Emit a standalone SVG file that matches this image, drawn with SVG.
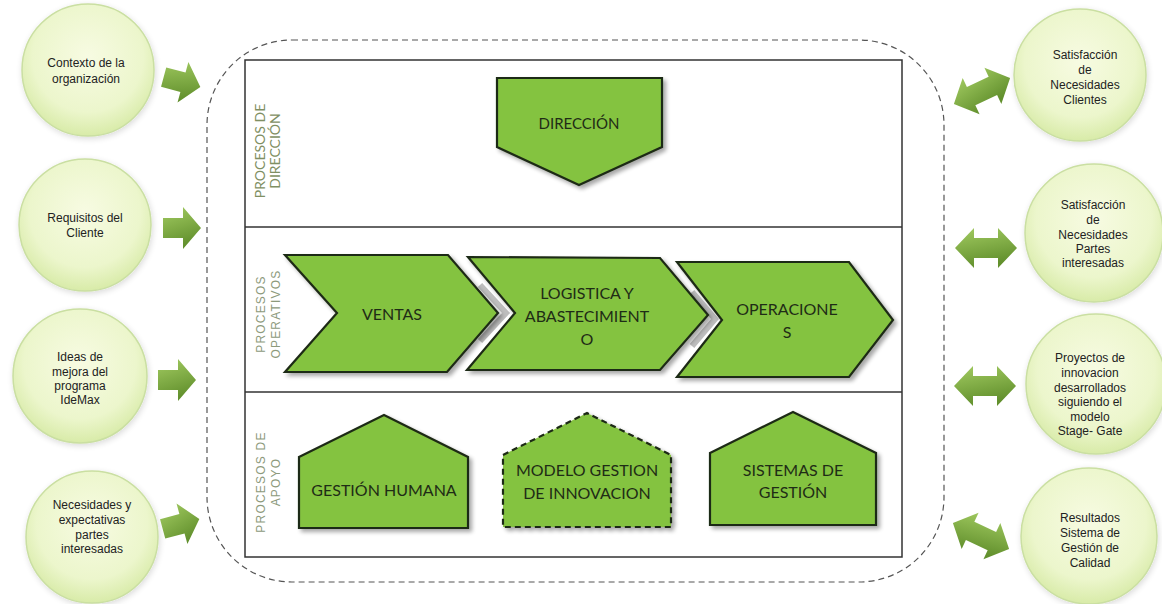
<svg xmlns="http://www.w3.org/2000/svg" width="1162" height="604" viewBox="0 0 1162 604">
<defs>
<style>
.ctext{font-family:"Liberation Sans",Arial,sans-serif;font-size:12px;fill:#222;text-anchor:middle}
.stext{font-family:Lato,"Open Sans",sans-serif;font-size:16px;fill:#1f2c16;text-anchor:middle}
.lbl{font-family:"Liberation Sans",Arial,sans-serif;font-size:12px;fill:#8d9a7c;text-anchor:middle;letter-spacing:1.2px}
.lbl2{font-family:Lato,"Open Sans",sans-serif;font-size:14px;fill:#7f8f63;text-anchor:middle}
.circ{fill:url(#cg);stroke:#cadfa2;stroke-width:1.5;filter:url(#glow)}
.shape{fill:#84c341;stroke:#1f2b15;stroke-width:2.2;stroke-linejoin:miter;filter:url(#sh)}
.arr{fill:url(#ag)}
</style>
<radialGradient id="cg" cx="50%" cy="40%" r="60%">
<stop offset="0" stop-color="#f7fbe2"/>
<stop offset="0.7" stop-color="#ecf6cc"/>
<stop offset="1" stop-color="#d8eba8"/>
</radialGradient>
<linearGradient id="ag" x1="0" y1="0" x2="0.3" y2="1">
<stop offset="0" stop-color="#a3cc62"/>
<stop offset="1" stop-color="#62902d"/>
</linearGradient>
<filter id="sh" x="-10%" y="-10%" width="130%" height="130%">
<feGaussianBlur in="SourceAlpha" stdDeviation="2"/>
<feOffset dx="3" dy="3" result="o"/>
<feComponentTransfer><feFuncA type="linear" slope="0.35"/></feComponentTransfer>
<feMerge><feMergeNode/><feMergeNode in="SourceGraphic"/></feMerge>
</filter>
<filter id="glow" x="-15%" y="-15%" width="130%" height="130%">
<feGaussianBlur in="SourceAlpha" stdDeviation="3"/>
<feOffset dx="1" dy="2"/>
<feComponentTransfer><feFuncA type="linear" slope="0.15"/></feComponentTransfer>
<feMerge><feMergeNode/><feMergeNode in="SourceGraphic"/></feMerge>
</filter>
<path id="arrR" d="M-19,-10 L1,-10 L1,-21 L19,0 L1,21 L1,10 L-19,10 Z"/>
<path id="arrD" d="M-31,0 L-12,-20 L-12,-10 L12,-10 L12,-20 L31,0 L12,20 L12,10 L-12,10 L-12,20 Z"/>
</defs>
<rect width="1162" height="604" fill="#ffffff"/>

<!-- container -->
<g id="container">
<rect x="207" y="40" width="737" height="542" rx="85" ry="85" fill="none" stroke="#555" stroke-width="1.2" stroke-dasharray="6 4"/>
<rect x="245" y="60" width="657" height="497" fill="none" stroke="#333" stroke-width="1.5"/>
<line x1="245" y1="227" x2="902" y2="227" stroke="#333" stroke-width="1.5"/>
<line x1="245" y1="392" x2="902" y2="392" stroke="#333" stroke-width="1.5"/>
<text class="lbl2" transform="rotate(-90 265 151)" x="265" y="151">PROCESOS DE</text>
<text class="lbl2" transform="rotate(-90 280 151)" x="280" y="151">DIRECCIÓN</text>
<text class="lbl" transform="rotate(-90 265 314)" x="265" y="314">PROCESOS</text>
<text class="lbl" transform="rotate(-90 280 314)" x="280" y="314">OPERATIVOS</text>
<text class="lbl" transform="rotate(-90 265 482)" x="265" y="482">PROCESOS DE</text>
<text class="lbl" transform="rotate(-90 280 482)" x="280" y="482">APOYO</text>
</g>

<!-- left input circles -->
<g id="in1"><circle class="circ" cx="88" cy="70" r="66"/>
<text class="ctext" x="86" y="67">Contexto de la</text><text class="ctext" x="86" y="83">organización</text></g>
<g id="in2"><circle class="circ" cx="85" cy="225" r="66"/>
<text class="ctext" x="85" y="222">Requisitos del</text><text class="ctext" x="85" y="237">Cliente</text></g>
<g id="in3"><circle class="circ" cx="80" cy="376" r="67"/>
<text class="ctext" x="80" y="361">Ideas de</text><text class="ctext" x="80" y="376">mejora del</text><text class="ctext" x="80" y="390">programa</text><text class="ctext" x="80" y="404">IdeMax</text></g>
<g id="in4"><circle class="circ" cx="92" cy="537" r="66"/>
<text class="ctext" x="92" y="509">Necesidades y</text><text class="ctext" x="92" y="524">expectativas</text><text class="ctext" x="92" y="539">partes</text><text class="ctext" x="92" y="553">interesadas</text></g>

<!-- right output circles -->
<g id="out1"><circle class="circ" cx="1080" cy="75" r="66"/>
<text class="ctext" x="1085" y="59">Satisfacción</text><text class="ctext" x="1085" y="74">de</text><text class="ctext" x="1085" y="89">Necesidades</text><text class="ctext" x="1085" y="104">Clientes</text></g>
<g id="out2"><circle class="circ" cx="1094" cy="233" r="69"/>
<text class="ctext" x="1093" y="209">Satisfacción</text><text class="ctext" x="1093" y="224">de</text><text class="ctext" x="1093" y="239">Necesidades</text><text class="ctext" x="1093" y="253">Partes</text><text class="ctext" x="1093" y="267">interesadas</text></g>
<g id="out3"><circle class="circ" cx="1096" cy="384" r="70"/>
<text class="ctext" x="1090" y="362">Proyectos de</text><text class="ctext" x="1090" y="377">innovacion</text><text class="ctext" x="1090" y="392">desarrollados</text><text class="ctext" x="1090" y="406">siguiendo el</text><text class="ctext" x="1090" y="421">modelo</text><text class="ctext" x="1090" y="435">Stage- Gate</text></g>
<g id="out4"><circle class="circ" cx="1089" cy="536" r="68"/>
<text class="ctext" x="1090" y="522">Resultados</text><text class="ctext" x="1090" y="537">Sistema de</text><text class="ctext" x="1090" y="552">Gestión de</text><text class="ctext" x="1090" y="567">Calidad</text></g>

<!-- process shapes -->
<g id="direccion"><polygon class="shape" points="497,78 662,78 662,147 579,185 497,147"/>
<text class="stext" style="font-size:15px" x="579" y="129">DIRECCIÓN</text></g>

<g id="connectors">
<g class="arr">
<use href="#arrR" transform="translate(182,82) rotate(15)"/>
<use href="#arrR" transform="translate(182,228)"/>
<use href="#arrR" transform="translate(177,380)"/>
<use href="#arrR" transform="translate(181,524) rotate(-15)"/>
<use href="#arrD" transform="translate(982,91) rotate(-25)"/>
<use href="#arrD" transform="translate(986,248)"/>
<use href="#arrD" transform="translate(985,386)"/>
<use href="#arrD" transform="translate(981,536) rotate(25)"/>
</g>
<polyline points="480,285 506,313 480,341" fill="none" stroke="#bdbdbd" stroke-width="6"/>
<polyline points="692,292 715,319 692,346" fill="none" stroke="#bdbdbd" stroke-width="6"/>
</g>

<g id="ventas"><polygon class="shape" points="285,255 448,255 498,313 447,372 285,372 337,313"/>
<text class="stext" x="392" y="320">VENTAS</text></g>
<g id="logistica"><polygon class="shape" points="468,257 660,258 708,315 660,370 467,370 515,313"/>
<text class="stext" x="587" y="299">LOGISTICA Y</text><text class="stext" x="587" y="322">ABASTECIMIENT</text><text class="stext" x="587" y="345">O</text></g>
<g id="operaciones"><polygon class="shape" points="677,262 849,262 893,320 849,377 677,377 722,320"/>
<text class="stext" x="787" y="315">OPERACIONE</text><text class="stext" x="787" y="338">S</text></g>

<g id="gestion-humana"><polygon class="shape" points="299,457 384,415 468,457 468,528 299,528"/>
<text class="stext" x="384" y="496">GESTIÓN HUMANA</text></g>
<g id="modelo-gestion"><polygon class="shape" style="stroke-dasharray:6 4" points="503,455 587,413 671,455 671,527 503,527"/>
<text class="stext" x="587" y="476">MODELO GESTION</text><text class="stext" x="587" y="499">DE INNOVACION</text></g>
<g id="sistemas-gestion"><polygon class="shape" points="710,453 793,412 876,453 876,525 710,525"/>
<text class="stext" x="793" y="476">SISTEMAS DE</text><text class="stext" x="793" y="498">GESTIÓN</text></g>
</svg>
